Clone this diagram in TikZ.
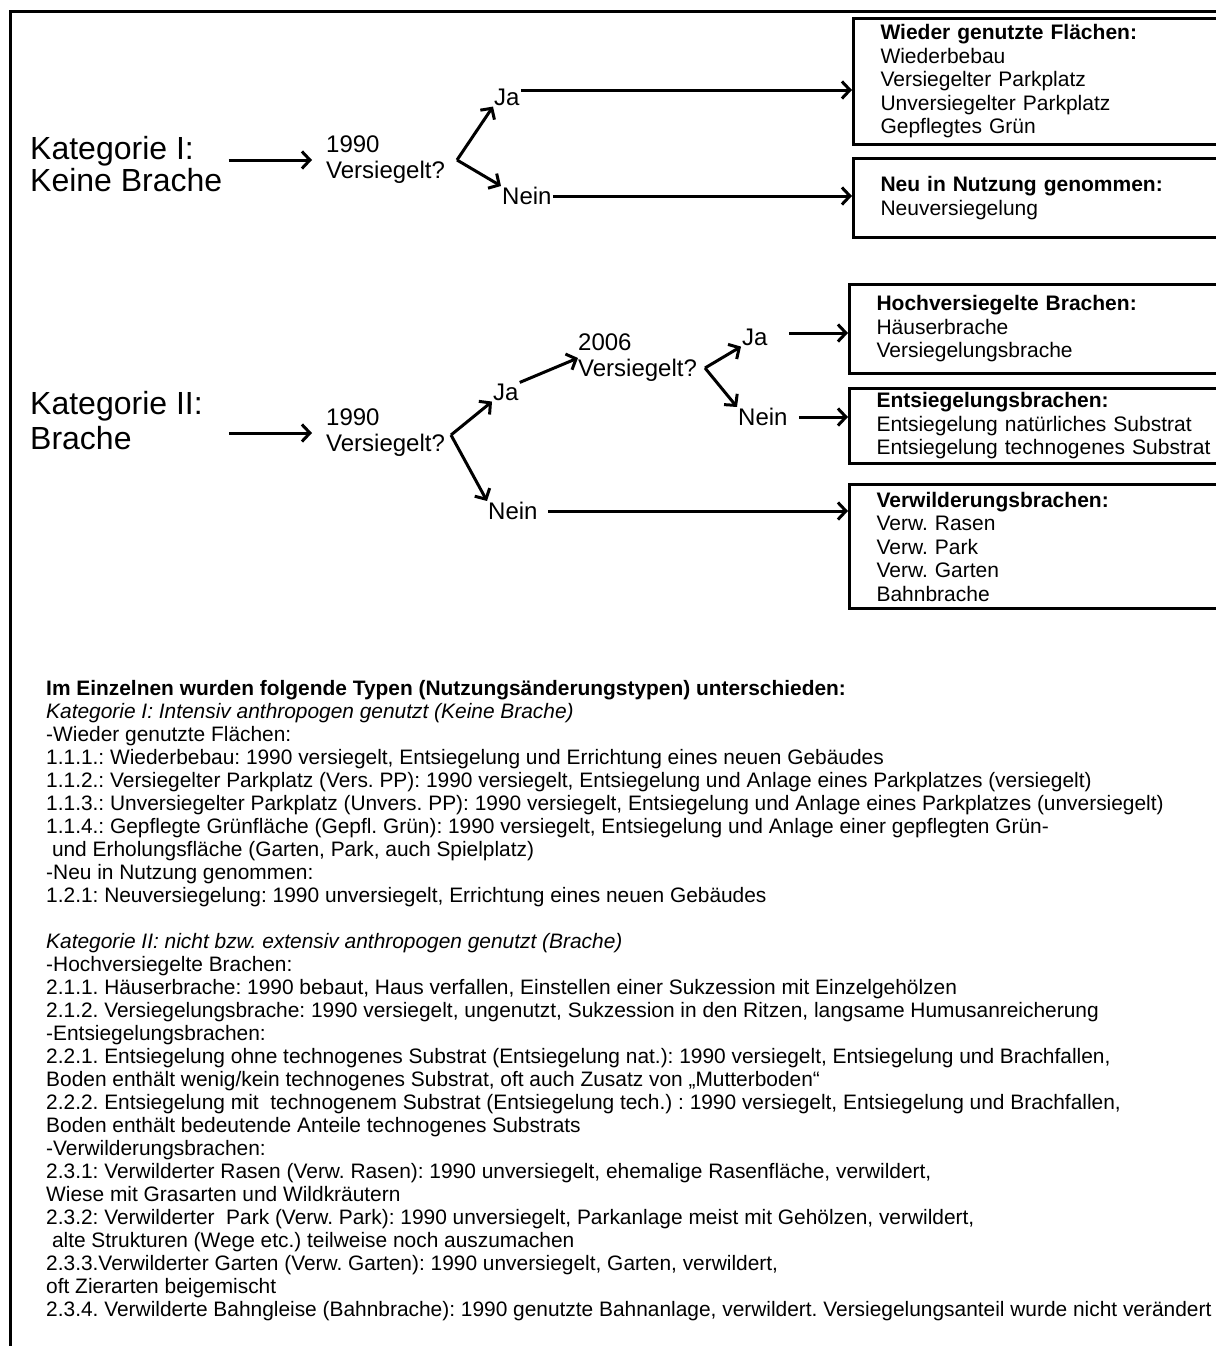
\documentclass[tikz,border=0pt]{standalone}
\usepackage{fontspec}
\setmainfont{Liberation Sans}
\usetikzlibrary{arrows.meta,positioning}
\frenchspacing

\tikzset{
    arr/.style={line width=3pt, -{Straight Barb[length=8pt,width=17pt]}},
    bigtext/.style={font=\fontsize{32}{32}\selectfont, align=left, inner sep=0pt},
    asktext/.style={font=\fontsize{24}{26}\selectfont, align=left, inner sep=0pt},
    answer/.style={font=\fontsize{24}{26}\selectfont, inner sep=1pt},
    typebox/.style={draw, line width=3pt, anchor=north west, align=left,
        text width=336pt, inner xsep=27pt, inner ysep=2pt,
        font=\fontsize{21}{23.5}\selectfont},
    notes/.style={font=\fontsize{20.9}{23}\selectfont, align=left, inner sep=0pt, anchor=north west}
}

\begin{document}
\begin{tikzpicture}[x=1pt,y=-1pt]
    \useasboundingbox (0,0) rectangle (1215,1346);
    \draw[line width=3pt] (10,1350) -- (10,12) -- (1225,12);

    % Kategorie I
    \node[bigtext, anchor=west] (kat1) at (30,164) {Kategorie I:\\Keine Brache};
    \node[asktext, anchor=west] (q1) at (326,160) {1990\\Versiegelt?};
    \coordinate (f1) at (457,160);
    \node[answer, anchor=west] (ja1) at (493,97) {Ja};
    \node[answer, anchor=west] (nein1) at (501,196) {Nein};

    \node[typebox, minimum height=126pt] (b1) at (852,17)
        {\textbf{Wieder genutzte Flächen:}\\Wiederbebau\\Versiegelter Parkplatz\\Unversiegelter Parkplatz\\Gepflegtes Grün};
    \node[typebox, minimum height=79pt] (b2) at (852,157)
        {\textbf{Neu in Nutzung genommen:}\\Neuversiegelung};

    \draw[arr, shorten <=6pt, shorten >=14pt] (kat1.east |- q1.west) -- (q1.west);
    \draw[arr] (f1) -- (ja1.south west);
    \draw[arr] (f1) -- (nein1.north west);
    \draw[arr] ([yshift=7pt]ja1.east) -- ([yshift=7pt]ja1.east -| b1.west);
    \draw[arr] (nein1.east) -- (nein1.east -| b2.west);

    % Kategorie II
    \node[bigtext, anchor=west] (kat2) at (30,421) {Kategorie II:\\[3pt]Brache};
    \node[asktext, anchor=west] (q2) at (326,433) {1990\\Versiegelt?};
    \coordinate (f2) at (451,435);
    \node[answer, anchor=west] (ja2) at (492,392) {Ja};
    \node[answer, anchor=west] (nein2) at (487,511) {Nein};
    \node[asktext, anchor=west] (q3) at (578,358) {2006\\Versiegelt?};
    \coordinate (f3) at (705,368);
    \node[answer, anchor=west] (ja3) at (741,337) {Ja};
    \node[answer, anchor=west] (nein3) at (737,417) {Nein};

    \node[typebox, minimum height=89pt] (b3) at (848,283)
        {\textbf{Hochversiegelte Brachen:}\\Häuserbrache\\Versiegelungsbrache};
    \node[typebox, minimum height=75pt] (b4) at (848,387)
        {\textbf{Entsiegelungsbrachen:}\\Entsiegelung natürliches Substrat\\Entsiegelung technogenes Substrat};
    \node[typebox, minimum height=124pt] (b5) at (848,483)
        {\textbf{Verwilderungsbrachen:}\\Verw. Rasen\\Verw. Park\\Verw. Garten\\Bahnbrache};

    \draw[arr, shorten <=26pt, shorten >=14pt] (kat2.east |- q2.west) -- (q2.west);
    \draw[arr] (f2) -- (ja2.south west);
    \draw[arr] (f2) -- (nein2.north west);
    \draw[arr] (ja2.north east) -- (q3.west);
    \draw[arr] (f3) -- (ja3.south west);
    \draw[arr] (f3) -- (nein3.north west);
    \draw[arr, shorten <=20pt] ([yshift=4pt]ja3.east) -- ([yshift=4pt]ja3.east -| b3.west);
    \draw[arr, shorten <=10pt] (nein3.east) -- (nein3.east -| b4.west);
    \draw[arr, shorten <=9pt] (nein2.east) -- (nein2.east -| b5.west);

    % Erlaeuterung
    \node[notes] (erkl) at (46,680) {%
        \textbf{Im Einzelnen wurden folgende Typen (Nutzungsänderungstypen) unterschieden:}\\
        \textit{Kategorie I: Intensiv anthropogen genutzt (Keine Brache)}\\
        -Wieder genutzte Flächen:\\
        1.1.1.: Wiederbebau: 1990 versiegelt, Entsiegelung und Errichtung eines neuen Gebäudes\\
        1.1.2.: Versiegelter Parkplatz (Vers. PP): 1990 versiegelt, Entsiegelung und Anlage eines Parkplatzes (versiegelt)\\
        1.1.3.: Unversiegelter Parkplatz (Unvers. PP): 1990 versiegelt, Entsiegelung und Anlage eines Parkplatzes (unversiegelt)\\
        1.1.4.: Gepflegte Grünfläche (Gepfl. Grün): 1990 versiegelt, Entsiegelung und Anlage einer gepflegten Grün-\\
        \mbox{} und Erholungsfläche (Garten, Park, auch Spielplatz)\\
        -Neu in Nutzung genommen:\\
        1.2.1: Neuversiegelung: 1990 unversiegelt, Errichtung eines neuen Gebäudes\\[23pt]
        \textit{Kategorie II: nicht bzw. extensiv anthropogen genutzt (Brache)}\\
        -Hochversiegelte Brachen:\\
        2.1.1. Häuserbrache: 1990 bebaut, Haus verfallen, Einstellen einer Sukzession mit Einzelgehölzen\\
        2.1.2. Versiegelungsbrache: 1990 versiegelt, ungenutzt, Sukzession in den Ritzen, langsame Humusanreicherung\\
        -Entsiegelungsbrachen:\\
        2.2.1. Entsiegelung ohne technogenes Substrat (Entsiegelung nat.): 1990 versiegelt, Entsiegelung und Brachfallen,\\
        Boden enthält wenig/kein technogenes Substrat, oft auch Zusatz von „Mutterboden“\\
        2.2.2. Entsiegelung mit \ technogenem Substrat (Entsiegelung tech.) : 1990 versiegelt, Entsiegelung und Brachfallen,\\
        Boden enthält bedeutende Anteile technogenes Substrats\\
        -Verwilderungsbrachen:\\
        2.3.1: Verwilderter Rasen (Verw. Rasen): 1990 unversiegelt, ehemalige Rasenfläche, verwildert,\\
        Wiese mit Grasarten und Wildkräutern\\
        2.3.2: Verwilderter \ Park (Verw. Park): 1990 unversiegelt, Parkanlage meist mit Gehölzen, verwildert,\\
        \mbox{} alte Strukturen (Wege etc.) teilweise noch auszumachen\\
        2.3.3.Verwilderter Garten (Verw. Garten): 1990 unversiegelt, Garten, verwildert,\\
        oft Zierarten beigemischt\\
        2.3.4. Verwilderte Bahngleise (Bahnbrache): 1990 genutzte Bahnanlage, verwildert. Versiegelungsanteil wurde nicht verändert};
\end{tikzpicture}
\end{document}
